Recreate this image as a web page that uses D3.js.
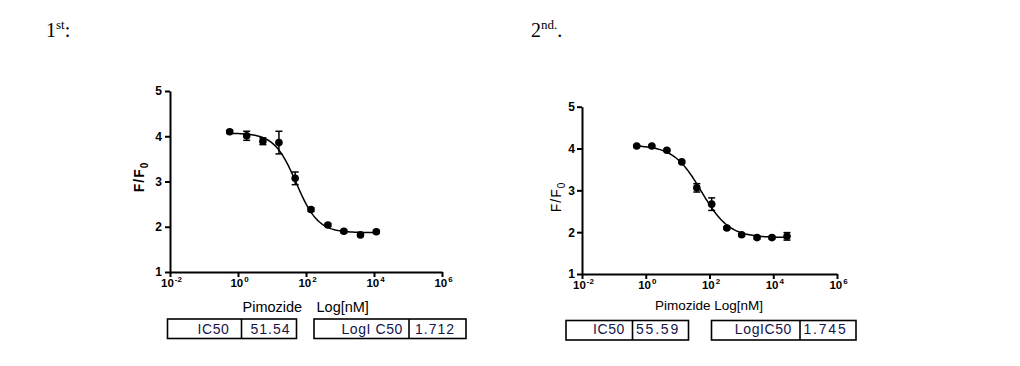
<!DOCTYPE html>
<html>
<head>
<meta charset="utf-8">
<script src="https://cdn.jsdelivr.net/npm/d3@7"></script>
<style>
body { margin: 0; background: #fff; }
text { font-family: "Liberation Sans", Arial, sans-serif; }
</style>
</head>
<body>
<script>
// data
var conc1 = [0.57, 1.8, 5.4, 16, 48, 140, 440, 1300, 4000, 11700];     // nM
var resp1 = [4.10, 4.01, 3.89, 3.86, 3.07, 2.38, 2.04, 1.90, 1.82, 1.89];
var err1  = [0.03, 0.10, 0.075, 0.25, 0.14, 0.04, 0.03, 0.03, 0.03, 0.03];
var fit1  = [4.07, 1.87, 1.712, 1.35];   // top, bottom, logIC50, hill

var conc2 = [0.52, 1.55, 4.6, 13.5, 40, 117, 350, 1020, 3100, 9100, 27000];
var resp2 = [4.06, 4.06, 3.96, 3.68, 3.06, 2.67, 2.10, 1.94, 1.87, 1.87, 1.90];
var err2  = [0.02, 0.02, 0.02, 0.03, 0.10, 0.15, 0.03, 0.03, 0.03, 0.03, 0.09];
var fit2  = [4.08, 1.87, 1.745, 1.0];

var xTickExp = [-2, 0, 2, 4, 6];
var yTicks = [1, 2, 3, 4, 5];

var tableLabels1 = ["IC50", "LogI C50"];
var tableValues1 = ["51.54", "1.712"];
var tableLabels2 = ["IC50", "LogIC50"];
var tableValues2 = ["55.59", "1.745"];

var titleMain = ["1", "2"];
var titleSup = ["st", "nd."];
var titleEnd = [":", "."];

var svg = d3.select("body").append("svg")
    .attr("width", 1020)
    .attr("height", 366);

// panel headings
var headX = [46, 531];
titleMain.forEach(function(t, i) {
  var h = svg.append("text")
      .attr("x", headX[i])
      .attr("y", 37)
      .style("font-family", "'Liberation Serif', 'Times New Roman', serif")
      .style("font-size", "20px")
      .attr("fill", "#000");
  h.append("tspan").text(t);
  h.append("tspan").attr("dy", -8).style("font-size", "13px").text(titleSup[i]);
  h.append("tspan").attr("dy", 8).text(titleEnd[i]);
});

var panels = [
  {left: 170, right: 442, top: 91, bottom: 272,
   conc: conc1, resp: resp1, err: err1, fit: fit1,
   yLab: [139, 177], yBold: true, yTickDx: -8,
   xTitle: [["Pimozide", 242.5], ["Log[nM]", 316.5]], xTitleY: 312, xTitleSize: 14.5,
   boxes: [[167.5, 241.5, 296.5], [314, 409, 466]], boxTop: 319, boxBottom: 338.5,
   labelPad: [12, 6], valuePad: [9, 6],
   labels: tableLabels1, values: tableValues1, valueSpacing: 1},
  {left: 582, right: 837, top: 106.7, bottom: 274,
   conc: conc2, resp: resp2, err: err2, fit: fit2,
   yLab: [556, 197], yBold: false, yTickDx: -7,
   xTitle: [["Pimozide Log[nM]", 655]], xTitleY: 310, xTitleSize: 13.5,
   boxes: [[566, 632.5, 688.5], [711.5, 800, 856]], boxTop: 320.5, boxBottom: 340,
   labelPad: [7.5, 8], valuePad: [3.5, 3.5],
   labels: tableLabels2, values: tableValues2, valueSpacing: 1.8}
];

panels.forEach(drawPanel);

function drawPanel(p) {
  var x = d3.scaleLog().domain([1e-2, 1e6]).range([p.left, p.right]);
  var y = d3.scaleLinear().domain([1, 5]).range([p.bottom, p.top]);
  var g = svg.append("g");

  // x axis
  var xa = g.append("g")
      .attr("transform", "translate(0," + p.bottom + ")")
      .call(d3.axisBottom(x)
        .tickValues(xTickExp.map(function(e) { return Math.pow(10, e); }))
        .tickSize(5).tickSizeOuter(0).tickFormat(""));
  xa.selectAll("text").remove();
  xa.selectAll(".tick").each(function(d, i) {
    var t = d3.select(this).append("text")
        .attr("x", 1)
        .attr("y", 14.5)
        .attr("text-anchor", "middle")
        .attr("fill", "#000")
        .style("font-size", "11.5px")
        .style("font-weight", "bold");
    t.append("tspan").text("10");
    t.append("tspan").attr("dy", -4.5).attr("dx", 1).style("font-size", "8px").text(xTickExp[i]);
  });

  // y axis
  var ya = g.append("g")
      .attr("transform", "translate(" + p.left + ",0)")
      .call(d3.axisLeft(y).tickValues(yTicks).tickSize(5).tickSizeOuter(0)
        .tickFormat(d3.format("d")));
  ya.selectAll("text")
      .attr("x", p.yTickDx)
      .attr("fill", "#000")
      .style("font-size", "12px")
      .style("font-weight", "bold");

  g.selectAll(".domain, .tick line")
      .attr("stroke", "#000")
      .attr("stroke-width", 2);

  // y label
  var yl = g.append("text")
      .attr("transform", "translate(" + p.yLab[0] + "," + p.yLab[1] + ") rotate(-90)")
      .attr("text-anchor", "middle")
      .attr("dy", "0.35em")
      .attr("fill", "#000")
      .style("font-size", "14px")
      .style("letter-spacing", "1px")
      .style("font-weight", p.yBold ? "bold" : "normal");
  yl.append("tspan").text("F/F");
  yl.append("tspan").attr("dy", 4).style("font-size", "10px").text("0");

  // x title
  p.xTitle.forEach(function(t) {
    g.append("text")
        .attr("x", t[1])
        .attr("y", p.xTitleY)
        .attr("fill", "#000")
        .style("font-size", p.xTitleSize + "px")
        .text(t[0]);
  });

  // fitted curve
  var lo = Math.log10(p.conc[0]), hi = Math.log10(p.conc[p.conc.length - 1]);
  var f = p.fit;
  var curve = d3.range(0, 101).map(function(k) {
    var lx = lo + (hi - lo) * k / 100;
    return [Math.pow(10, lx), f[1] + (f[0] - f[1]) / (1 + Math.pow(10, (lx - f[2]) * f[3]))];
  });
  g.append("path")
      .datum(curve)
      .attr("fill", "none")
      .attr("stroke", "#000")
      .attr("stroke-width", 1.5)
      .attr("d", d3.line()
        .x(function(d) { return x(d[0]); })
        .y(function(d) { return y(d[1]); }));

  // error bars
  var pts = p.conc.map(function(c, i) { return {c: c, v: p.resp[i], e: p.err[i]}; });
  var eb = g.selectAll(".eb").data(pts).enter().append("g")
      .attr("stroke", "#000")
      .attr("stroke-width", 1.5);
  eb.append("line")
      .attr("x1", function(d) { return x(d.c); })
      .attr("x2", function(d) { return x(d.c); })
      .attr("y1", function(d) { return y(d.v + d.e); })
      .attr("y2", function(d) { return y(d.v - d.e); });
  [1, -1].forEach(function(s) {
    eb.append("line")
        .attr("x1", function(d) { return x(d.c) - 3.5; })
        .attr("x2", function(d) { return x(d.c) + 3.5; })
        .attr("y1", function(d) { return y(d.v + s * d.e); })
        .attr("y2", function(d) { return y(d.v + s * d.e); });
  });

  // dots
  g.selectAll(".dot").data(pts).enter().append("circle")
      .attr("cx", function(d) { return x(d.c); })
      .attr("cy", function(d) { return y(d.v); })
      .attr("r", 3.8)
      .attr("fill", "#000");

  // result tables
  p.boxes.forEach(function(b, i) {
    var tg = g.append("g");
    tg.append("rect")
        .attr("x", b[0]).attr("y", p.boxTop)
        .attr("width", b[2] - b[0]).attr("height", p.boxBottom - p.boxTop)
        .attr("fill", "none").attr("stroke", "#000").attr("stroke-width", 1.6);
    tg.append("line")
        .attr("x1", b[1]).attr("x2", b[1])
        .attr("y1", p.boxTop).attr("y2", p.boxBottom)
        .attr("stroke", "#000").attr("stroke-width", 1.6);
    tg.append("text")
        .attr("x", b[1] - p.labelPad[i])
        .attr("y", 334)
        .attr("text-anchor", "end")
        .attr("fill", "#14144a")
        .style("font-size", "14px")
        .style("letter-spacing", "0.6px")
        .text(p.labels[i]);
    tg.append("text")
        .attr("x", b[1] + p.valuePad[i])
        .attr("y", 334)
        .attr("fill", "#14144a")
        .style("font-size", "14px")
        .style("letter-spacing", p.valueSpacing + "px")
        .text(p.values[i]);
  });
}
</script>
</body>
</html>
